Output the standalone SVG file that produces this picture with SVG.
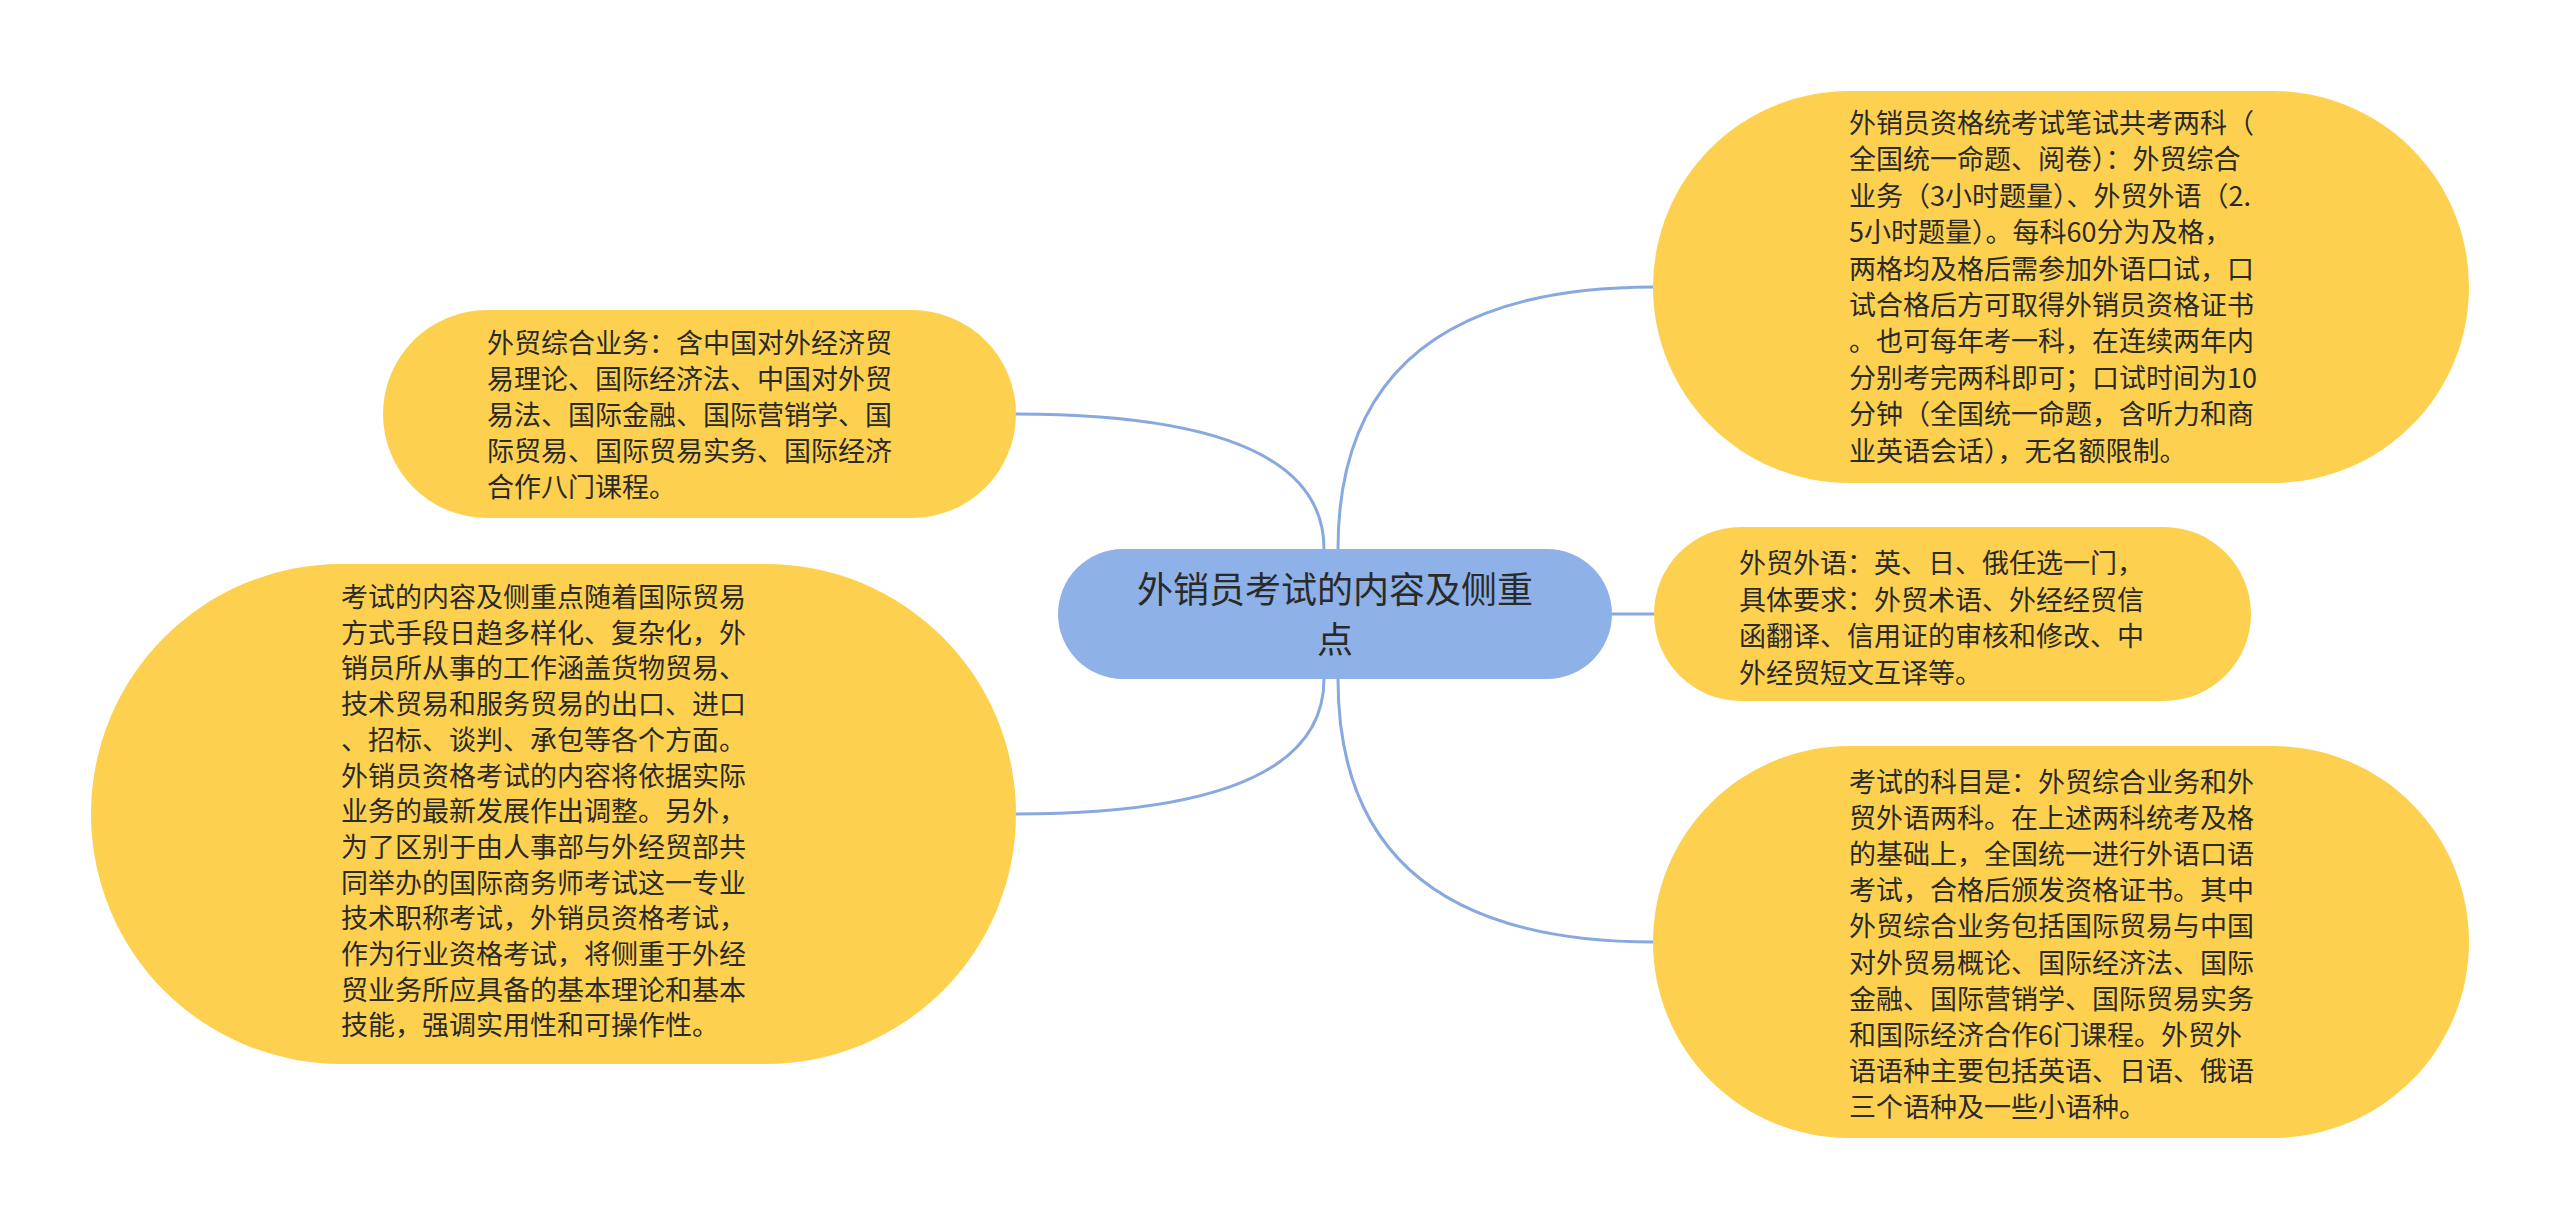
<svg xmlns="http://www.w3.org/2000/svg" width="2560" height="1229" viewBox="0 0 2560 1229">
<style>
.bg{fill:#ffffff}
.leaf{fill:#fdd14f}
.root{fill:#8eb1e8}
.t{font-family:"Noto Sans CJK SC","Microsoft YaHei",sans-serif;font-size:27px;fill:#2a2a2a}
.rt{font-family:"Noto Sans CJK SC","Microsoft YaHei",sans-serif;font-size:36px;fill:#2a2a2a;text-anchor:middle}
.c{fill:none;stroke:#87a9df;stroke-width:3}
</style>
<rect class="bg" x="0" y="0" width="2560" height="1229"/>
<g id="connectors">
<path class="c" d="M1338,549 Q1338,287 1654,287"/>
<path class="c" d="M1324,549 Q1324,414 1015,414"/>
<path class="c" d="M1324,679 Q1324,814 1015,814"/>
<path class="c" d="M1338,679 Q1338,942 1654,942"/>
<path class="c" d="M1610,614 L1655,614"/>
</g>
<g id="root">
<rect class="root" x="1058" y="549" width="554" height="130" rx="65" ry="65"/>
<text class="rt"><tspan x="1335" y="603">外销员考试的内容及侧重</tspan><tspan x="1335" y="653">点</tspan></text>
</g>
<g id="node-t1">
<rect class="leaf" x="1653" y="91" width="816" height="392" rx="196" ry="196"/>
<text class="t"><tspan x="1849" y="133">外销员资格统考试笔试共考两科（</tspan><tspan x="1849" dy="36.4">全国统一命题、阅卷）：外贸综合</tspan><tspan x="1849" dy="36.4">业务（3小时题量）、外贸外语（2.</tspan><tspan x="1849" dy="36.4">5小时题量）。每科60分为及格，</tspan><tspan x="1849" dy="36.4">两格均及格后需参加外语口试，口</tspan><tspan x="1849" dy="36.4">试合格后方可取得外销员资格证书</tspan><tspan x="1849" dy="36.4">。也可每年考一科，在连续两年内</tspan><tspan x="1849" dy="36.4">分别考完两科即可；口试时间为10</tspan><tspan x="1849" dy="36.4">分钟（全国统一命题，含听力和商</tspan><tspan x="1849" dy="36.4">业英语会话），无名额限制。</tspan></text>
</g>
<g id="node-l1">
<rect class="leaf" x="383" y="310" width="633" height="208" rx="104" ry="104"/>
<text class="t"><tspan x="487" y="353">外贸综合业务：含中国对外经济贸</tspan><tspan x="487" dy="36">易理论、国际经济法、中国对外贸</tspan><tspan x="487" dy="36">易法、国际金融、国际营销学、国</tspan><tspan x="487" dy="36">际贸易、国际贸易实务、国际经济</tspan><tspan x="487" dy="36">合作八门课程。</tspan></text>
</g>
<g id="node-l2">
<rect class="leaf" x="91" y="564" width="925" height="500" rx="250" ry="250"/>
<text class="t"><tspan x="341" y="607">考试的内容及侧重点随着国际贸易</tspan><tspan x="341" dy="35.7">方式手段日趋多样化、复杂化，外</tspan><tspan x="341" dy="35.7">销员所从事的工作涵盖货物贸易、</tspan><tspan x="341" dy="35.7">技术贸易和服务贸易的出口、进口</tspan><tspan x="341" dy="35.7">、招标、谈判、承包等各个方面。</tspan><tspan x="341" dy="35.7">外销员资格考试的内容将依据实际</tspan><tspan x="341" dy="35.7">业务的最新发展作出调整。另外，</tspan><tspan x="341" dy="35.7">为了区别于由人事部与外经贸部共</tspan><tspan x="341" dy="35.7">同举办的国际商务师考试这一专业</tspan><tspan x="341" dy="35.7">技术职称考试，外销员资格考试，</tspan><tspan x="341" dy="35.7">作为行业资格考试，将侧重于外经</tspan><tspan x="341" dy="35.7">贸业务所应具备的基本理论和基本</tspan><tspan x="341" dy="35.7">技能，强调实用性和可操作性。</tspan></text>
</g>
<g id="node-r2">
<rect class="leaf" x="1654" y="527" width="597" height="174" rx="87" ry="87"/>
<text class="t"><tspan x="1739" y="573">外贸外语：英、日、俄任选一门，</tspan><tspan x="1739" dy="36.7">具体要求：外贸术语、外经经贸信</tspan><tspan x="1739" dy="36.7">函翻译、信用证的审核和修改、中</tspan><tspan x="1739" dy="36.7">外经贸短文互译等。</tspan></text>
</g>
<g id="node-r3">
<rect class="leaf" x="1653" y="746" width="816" height="392" rx="196" ry="196"/>
<text class="t"><tspan x="1849" y="792">考试的科目是：外贸综合业务和外</tspan><tspan x="1849" dy="36.1">贸外语两科。在上述两科统考及格</tspan><tspan x="1849" dy="36.1">的基础上，全国统一进行外语口语</tspan><tspan x="1849" dy="36.1">考试，合格后颁发资格证书。其中</tspan><tspan x="1849" dy="36.1">外贸综合业务包括国际贸易与中国</tspan><tspan x="1849" dy="36.1">对外贸易概论、国际经济法、国际</tspan><tspan x="1849" dy="36.1">金融、国际营销学、国际贸易实务</tspan><tspan x="1849" dy="36.1">和国际经济合作6门课程。外贸外</tspan><tspan x="1849" dy="36.1">语语种主要包括英语、日语、俄语</tspan><tspan x="1849" dy="36.1">三个语种及一些小语种。</tspan></text>
</g>
</svg>
